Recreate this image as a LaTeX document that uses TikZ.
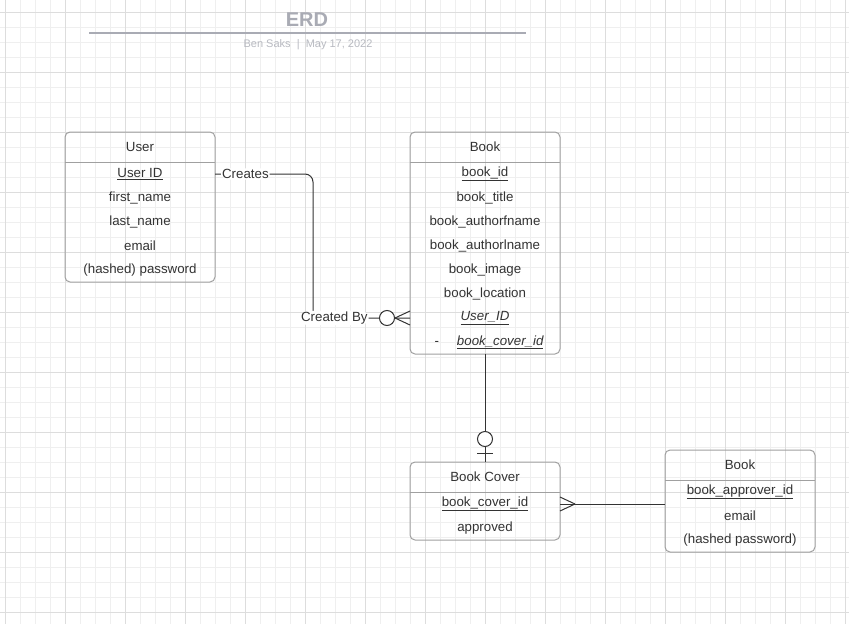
\documentclass[tikz,border=0pt]{standalone}
\usepackage{fontspec}
\setmainfont{Liberation Sans}
\usetikzlibrary{positioning,fit}

\definecolor{gridlight}{HTML}{EFEFEF}
\definecolor{griddark}{HTML}{DDDDDD}
\definecolor{boxgray}{HTML}{A0A0A0}
\definecolor{inkgray}{HTML}{333333}
\definecolor{titlegray}{HTML}{A9ABB4}
\definecolor{subgray}{HTML}{B8BAC1}

\tikzset{
  minorgrid/.style={draw=gridlight, line width=0.8pt, step=15pt},
  majorgrid/.style={draw=griddark, line width=1pt, step=60pt},
  header/.style={minimum width=150pt, minimum height=30pt, inner sep=0pt, outer sep=0pt, text=inkgray},
  field/.style={minimum width=150pt, minimum height=24pt, inner sep=0pt, outer sep=0pt, text=inkgray},
  entity/.style={draw=boxgray, line width=1pt, rounded corners=5pt, inner sep=0pt, outer sep=0pt},
  rule/.style={draw=boxgray, line width=1pt},
  link/.style={draw=inkgray, line width=1pt},
  tag/.style={fill=white, inner sep=1pt, text=inkgray},
  zero/.style={circle, draw=inkgray, fill=white, line width=1pt, minimum size=15pt, inner sep=0pt},
}

\begin{document}
\begin{tikzpicture}[x=1pt, y=-1pt, font=\fontsize{13.3}{16}\selectfont]
  % canvas and grid
  \fill[white] (0,0) rectangle (849,624);
  \useasboundingbox (0,0) rectangle (849,624);
  \begin{scope}
    \clip (0,0) rectangle (849,624);
    \begin{scope}[shift={(5,12)}]
      \draw[minorgrid] (-5,-12) grid (844,612);
      \draw[majorgrid] (-5,-12) grid (844,612);
    \end{scope}
  \end{scope}

  % title block
  \node[text=titlegray, font=\fontsize{20}{24}\selectfont\bfseries] (title) at (307,20) {ERD};
  \draw[draw=titlegray, line width=1.5pt] (89,33) -- (526,33);
  \node[text=subgray, font=\fontsize{11}{13}\selectfont] (byline) at (308,45) {Ben Saks\ \ |\ \ May 17, 2022};

  % user entity
  \node[header] (u-hdr) at (140,147) {User};
  \node[field, below=0pt of u-hdr] (u-1) {\underline{User ID}};
  \node[field, below=0pt of u-1] (u-2) {first\_name};
  \node[field, below=0pt of u-2] (u-3) {last\_name};
  \node[field, below=0pt of u-3] (u-4) {email};
  \node[field, below=0pt of u-4] (u-5) {(hashed) password};
  \node[entity, fit=(u-hdr)(u-5)] (user) {};
  \draw[rule] (u-hdr.south west) -- (u-hdr.south east);

  % book entity
  \node[header] (b-hdr) at (485,147) {Book};
  \node[field, below=0pt of b-hdr] (b-1) {\underline{book\_id}};
  \node[field, below=0pt of b-1] (b-2) {book\_title};
  \node[field, below=0pt of b-2] (b-3) {book\_authorfname};
  \node[field, below=0pt of b-3] (b-4) {book\_authorlname};
  \node[field, below=0pt of b-4] (b-5) {book\_image};
  \node[field, below=0pt of b-5] (b-6) {book\_location};
  \node[field, below=0pt of b-6] (b-7) {\textit{\underline{User\_ID}}};
  \node[field, below=0pt of b-7] (b-8) {\hspace{8pt}-\hspace{18pt}\textit{\underline{book\_cover\_id}}};
  \node[entity, fit=(b-hdr)(b-8)] (book) {};
  \draw[rule] (b-hdr.south west) -- (b-hdr.south east);

  % book cover entity
  \node[header] (c-hdr) at (485,477) {Book Cover};
  \node[field, below=0pt of c-hdr] (c-1) {\underline{book\_cover\_id}};
  \node[field, below=0pt of c-1] (c-2) {approved};
  \node[entity, fit=(c-hdr)(c-2)] (cover) {};
  \draw[rule] (c-hdr.south west) -- (c-hdr.south east);

  % approver entity
  \node[header] (a-hdr) at (740,465) {Book};
  \node[field, below=0pt of a-hdr] (a-1) {\underline{book\_approver\_id}};
  \node[field, below=0pt of a-1] (a-2) {email};
  \node[field, below=0pt of a-2] (a-3) {(hashed password)};
  \node[entity, fit=(a-hdr)(a-3)] (approver) {};
  \draw[rule] (a-hdr.south west) -- (a-hdr.south east);

  % user creates books
  \draw[link, rounded corners=8pt] (u-1.east)
    -- node[tag, pos=.31] {Creates} ++(98,0)
    |- node[tag, pos=.61] {Created By} (b-7.west);
  \node[zero] (b-zero) at ([xshift=-23pt]b-7.west) {};
  \draw[link] ([xshift=-15pt]b-7.west) -- ([yshift=7pt]b-7.west);
  \draw[link] ([xshift=-15pt]b-7.west) -- ([yshift=-7pt]b-7.west);

  % book has a cover
  \draw[link] (book.south) -- (cover.north);
  \node[zero] (c-zero) at ([yshift=23pt]cover.north) {};
  \draw[link] ([xshift=-8pt, yshift=9pt]cover.north) -- ([xshift=8pt, yshift=9pt]cover.north);

  % approver reviews covers
  \draw[link] (c-1.east) -- (c-1.east -| approver.west);
  \draw[link] ([yshift=7pt]c-1.east) -- ([xshift=15pt]c-1.east);
  \draw[link] ([yshift=-7pt]c-1.east) -- ([xshift=15pt]c-1.east);
\end{tikzpicture}
\end{document}
